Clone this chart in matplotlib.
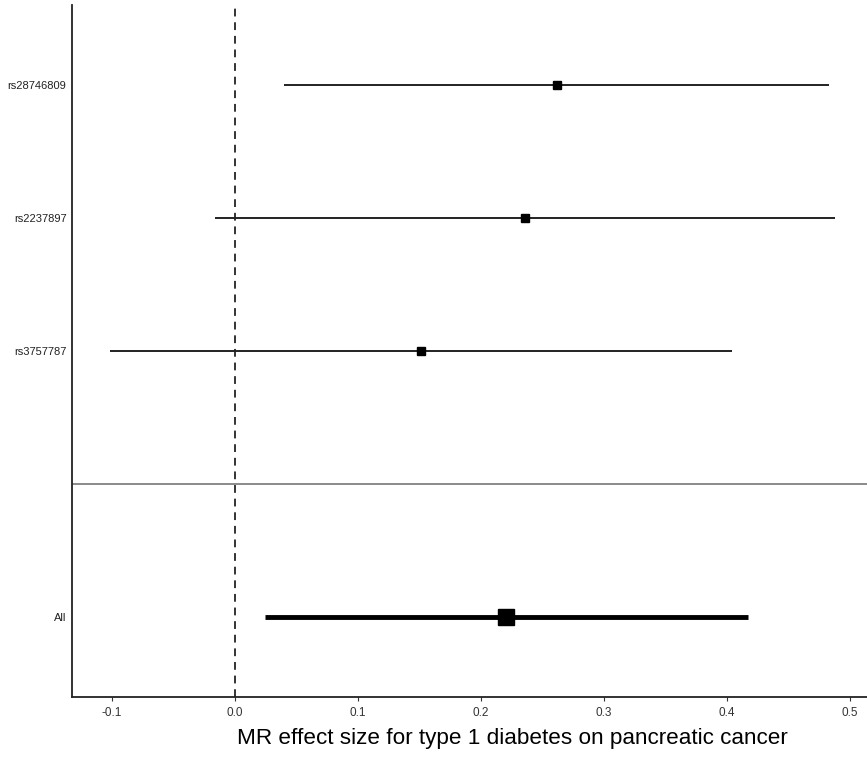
import matplotlib
matplotlib.use("Agg")
import matplotlib.pyplot as plt

snps = ["rs28746809", "rs2237897", "rs3757787"]
snp_b = [0.262, 0.236, 0.151]
snp_lo = [0.040, -0.016, -0.102]
snp_hi = [0.483, 0.488, 0.404]

all_label = "All"
all_b = 0.220
all_lo = 0.024
all_hi = 0.417

xticks = [-0.1, 0.0, 0.1, 0.2, 0.3, 0.4, 0.5]
xlabel = "MR effect size for type 1 diabetes on pancreatic cancer"

plt.rcParams['font.family'] = ['Liberation Sans', 'DejaVu Sans']

W, H = 867, 758
fig = plt.figure(figsize=(W/100, H/100), dpi=100)
ax = fig.add_axes([72/W, (H-697)/H, (W-72)/W, (697-5)/H])

ypos = [4, 3, 2]
for y, b, lo, hi in zip(ypos, snp_b, snp_lo, snp_hi):
    ax.plot([lo, hi], [y, y], color="#222222", lw=1.4, solid_capstyle="butt", zorder=2)
    ax.plot([b], [y], marker="s", ms=6, color="black", zorder=3)

ax.plot([all_lo, all_hi], [0, 0], color="black", lw=3.5, solid_capstyle="butt", zorder=2)
ax.plot([all_b], [0], marker="s", ms=11, color="black", zorder=3)

ax.axhline(1, color="#777777", lw=1.2, zorder=1)
ax.axvline(0, color="#333333", lw=1.4, ls=(0, (4, 3)), zorder=1)

ax.set_xlim((72-235)/1230, (867-235)/1230)
ax.set_ylim(-0.6, 4.6)
ax.set_xticks(xticks)
ax.set_xticklabels([f"{t:.1f}" for t in xticks], fontsize=8.5, color="#333333")
ax.set_yticks(ypos + [0])
ax.set_yticklabels(snps + [all_label], fontsize=8, color="#222222")
ax.tick_params(axis="y", length=0, pad=4)
ax.tick_params(axis="x", length=3, width=0.8, color="#333333", pad=4)
ax.set_xlabel(xlabel, fontsize=16.2, labelpad=7, color="black", x=(512-72)/(867-72))
for s in ["top", "right"]:
    ax.spines[s].set_visible(False)
for s in ["left", "bottom"]:
    ax.spines[s].set_linewidth(1.3)
    ax.spines[s].set_color("#222222")

fig.savefig("out.png", dpi=100)
